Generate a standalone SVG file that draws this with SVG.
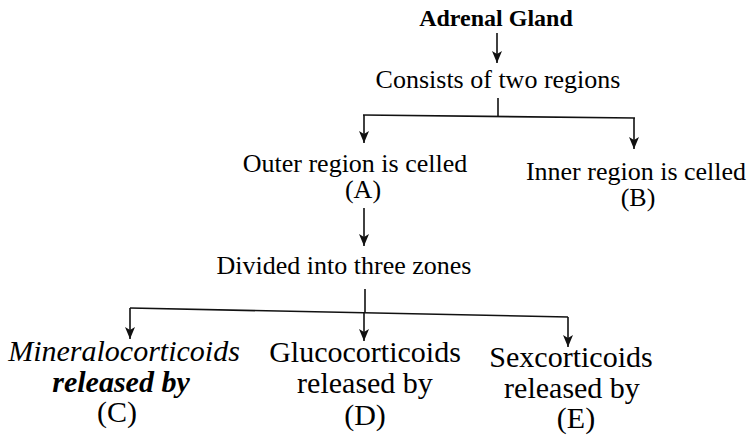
<svg xmlns="http://www.w3.org/2000/svg" width="754" height="437" viewBox="0 0 754 437">
<defs>
<marker id="ah" markerWidth="12" markerHeight="10" refX="12" refY="5" orient="auto" markerUnits="userSpaceOnUse" viewBox="0 0 12 10">
<path d="M0,0 L12,5 L0,10 L3,5 Z" fill="#111"/>
</marker>
</defs>
<rect width="754" height="437" fill="#fff"/>
<g id="adrenal"><text font-family="Liberation Serif" x="496" y="26" font-weight="bold" font-size="24" text-anchor="middle">Adrenal Gland</text></g>
<g id="consists"><text font-family="Liberation Serif" font-size="26" x="498" y="88" text-anchor="middle">Consists of two regions</text></g>
<g id="outer"><text font-family="Liberation Serif" font-size="26" x="355" y="172" text-anchor="middle">Outer region is celled</text><text font-family="Liberation Serif" font-size="26" x="363" y="198" text-anchor="middle">(A)</text></g>
<g id="inner"><text font-family="Liberation Serif" font-size="26" x="636" y="180" text-anchor="middle">Inner region is celled</text><text font-family="Liberation Serif" font-size="26" x="638" y="206" text-anchor="middle">(B)</text></g>
<g id="divided"><text font-family="Liberation Serif" font-size="26" x="344" y="274" text-anchor="middle">Divided into three zones</text></g>
<g id="mineral"><text font-family="Liberation Serif" font-size="30" font-style="italic" x="124" y="361" text-anchor="middle">Mineralocorticoids</text><text font-family="Liberation Serif" font-size="30" font-style="italic" font-weight="bold" x="121" y="392" text-anchor="middle">released by</text><text font-family="Liberation Serif" font-size="30" x="117" y="422" text-anchor="middle">(C)</text></g>
<g id="gluco"><text font-family="Liberation Serif" font-size="30" x="365" y="362" text-anchor="middle">Glucocorticoids</text><text font-family="Liberation Serif" font-size="30" x="365" y="393" text-anchor="middle">released by</text><text font-family="Liberation Serif" font-size="30" x="365" y="425" text-anchor="middle">(D)</text></g>
<g id="sex"><text font-family="Liberation Serif" font-size="30" x="571" y="367" text-anchor="middle">Sexcorticoids</text><text font-family="Liberation Serif" font-size="30" x="572" y="398" text-anchor="middle">released by</text><text font-family="Liberation Serif" font-size="30" x="576" y="428" text-anchor="middle">(E)</text></g>
<g id="connectors" stroke="#111" stroke-width="1.6" fill="none">
<line x1="497" y1="33" x2="497" y2="63" marker-end="url(#ah)"/>
<line x1="498" y1="98" x2="498" y2="116"/>
<line x1="363" y1="115" x2="635" y2="118"/>
<line x1="364" y1="115" x2="364" y2="143" marker-end="url(#ah)"/>
<line x1="634" y1="118" x2="634" y2="149" marker-end="url(#ah)"/>
<line x1="364" y1="208" x2="364" y2="246" marker-end="url(#ah)"/>
<line x1="365" y1="289" x2="365" y2="312"/>
<line x1="130" y1="308" x2="568" y2="317"/>
<line x1="130" y1="308" x2="130" y2="339" marker-end="url(#ah)"/>
<line x1="364" y1="312" x2="364" y2="341" marker-end="url(#ah)"/>
<line x1="568" y1="317" x2="568" y2="347" marker-end="url(#ah)"/>
</g>
</svg>
